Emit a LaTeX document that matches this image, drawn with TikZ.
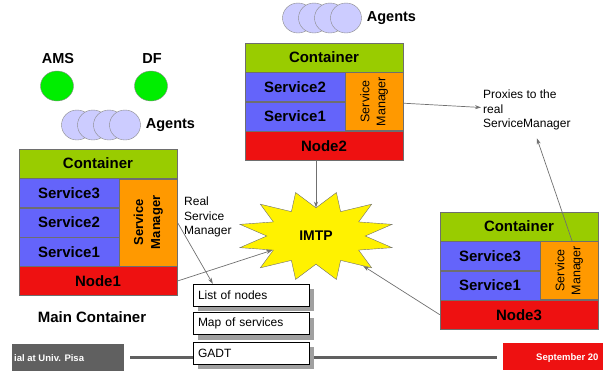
\documentclass[tikz,border=0pt]{standalone}
\usepackage{fontspec}
\setmainfont{Liberation Sans}
\usetikzlibrary{shapes.geometric, positioning, arrows.meta, calc, shadows}

\definecolor{contgreen}{HTML}{99CC00}
\definecolor{svcblue}{HTML}{6464FA}
\definecolor{mgrorange}{HTML}{FF9900}
\definecolor{hostred}{HTML}{EE1111}
\definecolor{cellgray}{HTML}{6E6E6E}
\definecolor{agentfill}{HTML}{CCCCFF}
\definecolor{agentgray}{HTML}{8A8A8A}
\definecolor{sysgreen}{HTML}{00EE00}
\definecolor{shadowgray}{HTML}{A0A0A0}
\definecolor{arrowgray}{HTML}{707070}
\definecolor{footgray}{HTML}{606060}

\begin{document}
\begin{tikzpicture}[
x=1pt, y=-1pt,
    cont/.style={rectangle, draw=cellgray, fill=contgreen, minimum width=158pt, minimum height=29pt, inner sep=0pt, font=\fontsize{15}{17}\selectfont\bfseries},
    svc/.style={rectangle, draw=cellgray, fill=svcblue, minimum width=100pt, minimum height=29pt, inner sep=0pt, font=\fontsize{15}{17}\selectfont\bfseries},
    mgr/.style={rectangle, draw=cellgray, fill=mgrorange, rotate=90, minimum height=58pt, inner sep=0pt, align=center, font=\fontsize{12.5}{16}\selectfont},
    host/.style={rectangle, draw=cellgray, fill=hostred, minimum width=158pt, minimum height=29pt, inner sep=0pt, font=\fontsize{15}{17}\selectfont\bfseries},
    agent/.style={ellipse, draw=agentgray, fill=agentfill, minimum width=31pt, minimum height=30pt, inner sep=0pt},
    sysagent/.style={ellipse, draw=agentgray, fill=sysgreen, minimum width=33pt, minimum height=30pt, inner sep=0pt},
    tag/.style={font=\fontsize{14.5}{17}\selectfont\bfseries, inner sep=1pt},
    note/.style={align=left, font=\fontsize{12}{14.5}\selectfont, inner sep=2pt},
    listbox/.style={rectangle, draw, fill=white, minimum height=22pt, text width=106pt, inner xsep=5pt, align=left, font=\fontsize{12}{14}\selectfont, drop shadow={shadow xshift=5pt, shadow yshift=-5pt, fill=shadowgray, opacity=1}},
    burst/.style={star, star points=12, star point ratio=1.6, shape border rotate=15, draw=cellgray, fill=yellow, minimum size=90pt, inner sep=0pt, xscale=1.75, transform shape},
    conn/.style={draw=arrowgray, line width=0.7pt, -{Stealth[length=6pt, width=4pt]}},
    footbox/.style={rectangle, minimum height=27pt, inner sep=0pt},
    foottext/.style={text=white, font=\fontsize{9.5}{11}\selectfont\bfseries, inner sep=0pt},
    footline/.style={draw=footgray, line width=3pt}
]
    \useasboundingbox (0,0) rectangle (603,370);

    % --- System agents ---
    \node[tag] (amslbl) at (58,59) {AMS};
    \node[tag] (dflbl) at (152,59) {DF};
    \node[sysagent] (ams) at (57,86) {};
    \node[sysagent] (df) at (151,86) {};

    % --- Agents of the main container ---
    \foreach \i in {0,...,3}
        \node[agent] (aa\i) at (77+16*\i,125) {};
    \node[tag, right=4pt of aa3] (agentsa) {Agents};

    % --- Main container (Node1) ---
    \node[cont] (c1) at (98,163.5) {Container};
    \node[svc, below right=0pt and 0pt of c1.south west] (s13) {Service3};
    \node[svc, below=0pt of s13] (s12) {Service2};
    \node[svc, below=0pt of s12] (s11) {Service1};
    \node[mgr, minimum width=87pt, font=\fontsize{13}{17}\selectfont\bfseries] (sm1) at ($(s13.north east)!0.5!(s11.south east)+(29,0)$) {Service\\Manager};
    \node[host, below right=0pt and 0pt of s11.south west] (n1) {Node1};
    \node[tag, font=\fontsize{15}{17}\selectfont\bfseries] (mainlbl) at (92,317) {Main Container};

    % --- Agents of Node2 ---
    \foreach \i in {0,...,3}
        \node[agent] (ab\i) at (298+16*\i,18) {};
    \node[tag, right=4pt of ab3] (agentsb) {Agents};

    % --- Container on Node2 ---
    \node[cont] (c2) at (324,57.5) {Container};
    \node[svc, below right=0pt and 0pt of c2.south west] (s22) {Service2};
    \node[svc, below=0pt of s22] (s21) {Service1};
    \node[mgr, minimum width=58pt] (sm2) at ($(s22.north east)!0.5!(s21.south east)+(29,0)$) {Service\\Manager};
    \node[host, below right=0pt and 0pt of s21.south west] (n2) {Node2};

    % --- Container on Node3 ---
    \node[cont] (c3) at (519,226.5) {Container};
    \node[svc, below right=0pt and 0pt of c3.south west] (s33) {Service3};
    \node[svc, below=0pt of s33] (s31) {Service1};
    \node[mgr, minimum width=58pt] (sm3) at ($(s33.north east)!0.5!(s31.south east)+(29,0)$) {Service\\Manager};
    \node[host, below right=0pt and 0pt of s31.south west] (n3) {Node3};

    % --- IMTP ---
    \begin{scope}[shift={(316,236)}]
        \node[burst] (imtp) at (0,0) {};
    \end{scope}
    \node[tag, font=\fontsize{14}{16}\selectfont\bfseries] (imtplbl) at (imtp) {IMTP};

    % --- Notes ---
    \node[note, anchor=north west] (rsm) at (182,195) {Real\\Service\\Manager};
    \node[note, anchor=west] (proxies) at (481,110) {Proxies to the\\real\\ServiceManager};

    % --- Footer ---
    \node[footbox, fill=footgray, minimum width=112pt] (footl) at (68,357) {};
    \node[foottext, anchor=west] (footltxt) at (14,358) {ial at Univ. Pisa};
    \node[footbox, fill=hostred, minimum width=100pt] (footr) at (553,356.5) {};
    \node[foottext, anchor=west] (footrtxt) at (536,358) {September 20};

    % --- GADT tables ---
    \node[listbox] (lnodes) at (251,295) {List of nodes};
    \node[listbox] (msvc) at (251,323.5) {Map of services};
    \node[listbox] (gadt) at (251,353) {GADT};

    \draw[footline] ([xshift=6pt]footl.east) -- (footl.east -| gadt.west);
    \draw[footline] ([xshift=5pt]gadt.east |- footl.east) -- ([xshift=-6pt]footl.east -| footr.west);

    % --- Connectors ---
    \draw[conn] (n2.south -| imtp) -- (imtp);
    \draw[conn] (n1.east) -- (imtp);
    \draw[conn] (n3.west) -- (imtp);
    \draw[conn] (sm1.south) -- ([xshift=20pt]lnodes.north west);
    \draw[conn] (sm2) -- (proxies);
    \draw[conn] ([xshift=3pt]sm3.east) -- ([shift={(10,6)}]proxies.south);

\end{tikzpicture}
\end{document}
